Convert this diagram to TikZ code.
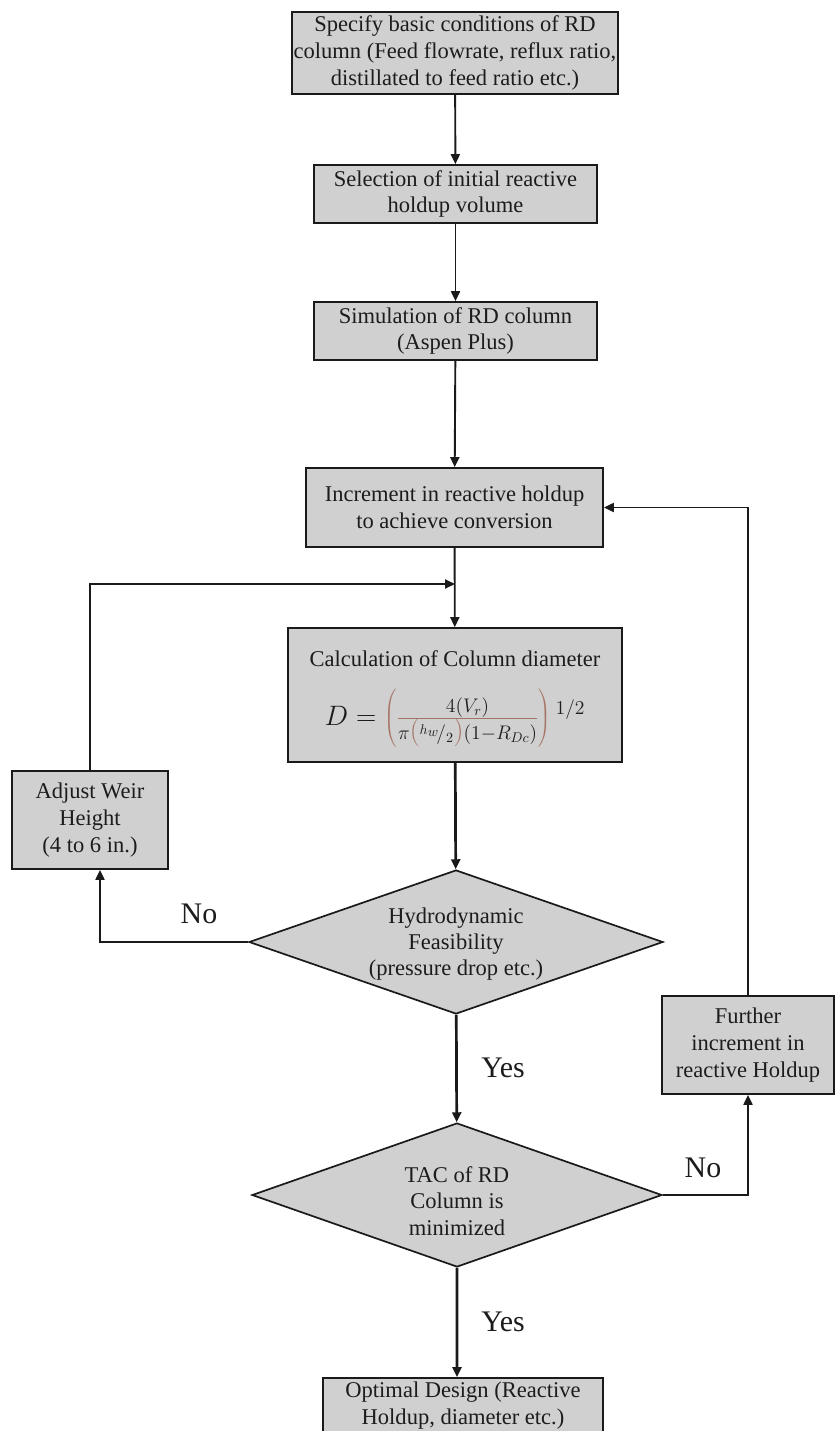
\RequirePackage{fix-cm}
\documentclass[tikz,border=0pt]{standalone}
\usepackage{fontspec}
\setmainfont{Liberation Serif}
\usetikzlibrary{arrows.meta,shapes.geometric}
\definecolor{boxfill}{RGB}{208,208,208}
\definecolor{linec}{RGB}{26,26,26}
\definecolor{txt}{RGB}{28,28,28}
\definecolor{brn}{RGB}{165,115,100}
\begin{document}
\begin{tikzpicture}[x=1bp,y=1bp,
  box/.style={draw=linec, line width=1.7bp, fill=boxfill, inner sep=0pt, align=center, text=txt, font=\fontsize{22.6}{27}\selectfont},
  decbox/.style={diamond, draw=linec, line width=1.7bp, fill=boxfill, inner sep=0pt},
  dtext/.style={align=center, text=txt, inner sep=0pt, font=\fontsize{22.6}{26.5}\selectfont},
  conn/.style={draw=linec, line width=1.9bp, -{Triangle[length=10bp,width=9bp]}},
  thickconn/.style={conn, line width=2.7bp},
  lbl/.style={text=txt, font=\fontsize{30}{34}\selectfont, inner sep=0pt}]
\useasboundingbox (0,0) rectangle (836,-1431);
\clip (0,0) rectangle (836,-1431);
\fill[white] (0,0) rectangle (836,-1431);

\node[box, minimum width=326bp, minimum height=82bp] (b1) at (455,-53)
  {Specify basic conditions of RD\\column (Feed flowrate, reflux ratio,\\distillated to feed ratio etc.)};
\node[box, minimum width=283bp, minimum height=58bp] (b2) at (455.5,-194)
  {Selection of initial reactive\\holdup volume};
\node[box, minimum width=283bp, minimum height=58bp] (b3) at (455.5,-331)
  {Simulation of RD column\\(Aspen Plus)};
\node[box, minimum width=297bp, minimum height=79bp] (b4) at (454.5,-507.5)
  {Increment in reactive holdup\\to achieve conversion};
\node[box, minimum width=334bp, minimum height=134bp] (b5) at (455,-695) {};
\node[dtext] (b5t) at (455,-659) {Calculation of Column diameter};
\node[inner sep=0pt, text=txt, scale=1.41, font=\fontsize{20}{24}\selectfont] (b5f) at (455,-718)
  {$D=\color{brn}\left(\frac{\color{txt}4(V_r)}{\color{txt}\pi\color{brn}\Bigl(\color{txt}{}^{h_w}\!/_{2}\color{brn}\Bigr)\color{txt}(1-R_{Dc})}\color{brn}\right)^{\color{txt}1/2}$};
\node[box, minimum width=156bp, minimum height=98bp] (adj) at (90,-820)
  {Adjust Weir\\Height\\(4 to 6 in.)};
\node[decbox, minimum width=414bp, minimum height=144bp] (d1) at (456,-942) {};
\node[dtext] (d1t) at (456,-944) {Hydrodynamic\\Feasibility\\(pressure drop etc.)};
\node[decbox, minimum width=410bp, minimum height=144bp] (d2) at (457,-1195) {};
\node[dtext] (d2t) at (457,-1201) {TAC of RD\\Column is\\minimized};
\node[box, minimum width=172bp, minimum height=98bp] (fur) at (748,-1045)
  {Further\\increment in\\reactive Holdup};
\node[box, minimum width=280bp, minimum height=56bp] (endb) at (463,-1406)
  {Optimal Design (Reactive\\Holdup, diameter etc.)};

\coordinate (j) at (455,-584);
\draw[conn] (b1) -- (b2);
\draw[conn] (b2) -- (b3);
\draw[conn] (b3) -- (b4);
\draw[conn] (b4) -- (b5);
\draw[conn] (adj.north) |- (j);
\draw[thickconn] (b5) -- (d1);
\draw[conn] (d1.west) -| ([xshift=10bp]adj.south);
\draw[thickconn] (d1) -- (d2);
\draw[conn] (d2.east) -| (fur.south);
\draw[conn] (fur.north) |- (b4.east);
\draw[thickconn] (d2.south) -- ([xshift=-6bp]endb.north);

\node[lbl] (no1) at (199,-914) {No};
\node[lbl] (yes1) at (503,-1068) {Yes};
\node[lbl] (no2) at (703,-1168) {No};
\node[lbl] (yes2) at (503,-1322) {Yes};
\end{tikzpicture}
\end{document}
